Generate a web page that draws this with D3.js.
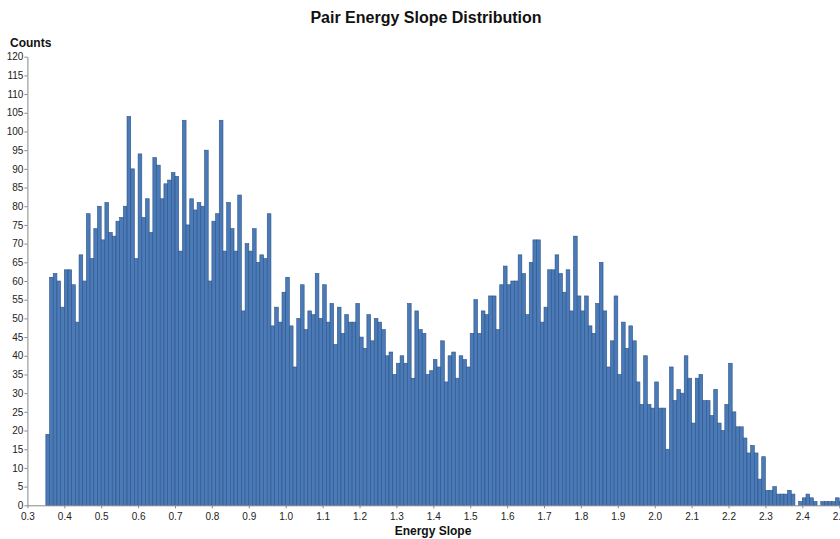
<!DOCTYPE html>
<html>
<head>
<meta charset="utf-8">
<script src="https://cdn.jsdelivr.net/npm/d3@7/dist/d3.min.js"></script>
<style>
  html, body { margin: 0; padding: 0; background: #fff; }
  svg { display: block; font-family: Arial, "Liberation Sans", Helvetica, sans-serif; }
</style>
</head>
<body>
<div id="chart"></div>
<script>
// Histogram bins: lower edge of each 0.01-wide bin, starting at 0.35
const binStart = 0.35;
const binWidth = 0.01;

// Counts per bin (0.35 … 2.50)
const counts = [
  19, 61, 62, 60, 53, 63, 63, 59, 49, 67,   // 0.35–0.44
  60, 78, 66, 74, 80, 71, 81, 73, 72, 76,   // 0.45–0.54
  77, 80, 104, 90, 66, 94, 77, 82, 73, 93,  // 0.55–0.64
  91, 82, 86, 87, 89, 88, 68, 103, 75, 82,  // 0.65–0.74
  79, 81, 80, 95, 60, 76, 78, 103, 68, 81,  // 0.75–0.84
  74, 68, 83, 52, 70, 68, 74, 65, 67, 66,   // 0.85–0.94
  78, 48, 53, 49, 57, 61, 48, 37, 50, 59,   // 0.95–1.04
  47, 52, 51, 62, 50, 59, 49, 54, 43, 53,   // 1.05–1.14
  46, 51, 49, 49, 54, 45, 42, 51, 44, 50,   // 1.15–1.24
  49, 47, 40, 41, 35, 38, 40, 38, 54, 34,   // 1.25–1.34
  52, 47, 46, 35, 36, 39, 37, 44, 33, 40,   // 1.35–1.44
  41, 34, 40, 39, 37, 46, 55, 46, 52, 51,   // 1.45–1.54
  56, 56, 47, 59, 64, 59, 60, 60, 67, 62,   // 1.55–1.64
  51, 65, 71, 71, 49, 53, 63, 63, 67, 62,   // 1.65–1.74
  57, 63, 52, 72, 56, 52, 56, 48, 46, 54,   // 1.75–1.84
  65, 52, 37, 44, 56, 35, 49, 42, 48, 44,   // 1.85–1.94
  33, 27, 40, 27, 26, 33, 26, 26, 15, 37,   // 1.95–2.04
  28, 31, 30, 40, 34, 22, 34, 35, 28, 28,   // 2.05–2.14
  24, 31, 22, 20, 27, 38, 25, 21, 21, 18,   // 2.15–2.24
  14, 16, 14, 7, 13, 4, 4, 5, 3, 3,         // 2.25–2.34
  3, 4, 3, 0, 1, 2, 3, 2, 1, 0,             // 2.35–2.44
  1, 1, 1, 1, 2, 1                          // 2.45–2.50
];

const xTicks = d3.range(3, 26).map(d => d / 10);   // 0.3 … 2.5
const yTicks = d3.range(0, 121, 5);                // 0 … 120

const titleText = "Pair Energy Slope Distribution";
const xLabel = "Energy Slope";
const yLabel = "Counts";

const bins = counts.map((c, i) => ({
  x0: +(binStart + i * binWidth).toFixed(2),
  x1: +(binStart + (i + 1) * binWidth).toFixed(2),
  count: c
}));

const W = 840, H = 539;
const svg = d3.select("#chart").append("svg")
  .attr("width", W).attr("height", H);

const x = d3.scaleLinear().domain([0.3, 2.5]).range([27.4, 839.2]);
const y = d3.scaleLinear().domain([0, 120]).range([505.3, 56.7]);

// bars
svg.append("g")
  .selectAll("rect")
  .data(bins.filter(d => d.count > 0))
  .join("rect")
  .attr("x", d => x(d.x0))
  .attr("y", d => y(d.count))
  .attr("width", d => x(d.x1) - x(d.x0))
  .attr("height", d => y(0) - y(d.count))
  .attr("fill", "#4a7ab8")
  .attr("stroke", "#2d5486")
  .attr("stroke-width", 0.6);

// x axis
const gx = svg.append("g")
  .attr("transform", `translate(0,${y(0)})`)
  .call(d3.axisBottom(x).tickValues(xTicks).tickFormat(d3.format(".1f")).tickSize(3).tickSizeOuter(0));

// y axis
const gy = svg.append("g")
  .attr("transform", `translate(${x(0.3)},0)`)
  .call(d3.axisLeft(y).tickValues(yTicks).tickSize(3).tickSizeOuter(0));

[gx, gy].forEach(g => {
  g.select(".domain").attr("stroke", "#888");
  g.selectAll(".tick line").attr("stroke", "#888");
  g.selectAll(".tick text")
    .attr("fill", "#222")
    .style("font-size", "10px")
    .style("font-family", "Arial, 'Liberation Sans', sans-serif");
});
gx.selectAll(".tick text").attr("dy", "0.9em");
gy.selectAll(".tick text").attr("x", -4);

// title
svg.append("text")
  .attr("x", 426).attr("y", 23)
  .attr("text-anchor", "middle")
  .style("font-size", "16px").style("font-weight", "bold")
  .attr("fill", "#111")
  .text(titleText);

// y label
svg.append("text")
  .attr("x", 10).attr("y", 47)
  .style("font-size", "12px").style("font-weight", "bold")
  .attr("fill", "#111")
  .text(yLabel);

// x label
svg.append("text")
  .attr("x", 433).attr("y", 535)
  .attr("text-anchor", "middle")
  .style("font-size", "12px").style("font-weight", "bold")
  .attr("fill", "#111")
  .text(xLabel);
</script>
</body>
</html>
